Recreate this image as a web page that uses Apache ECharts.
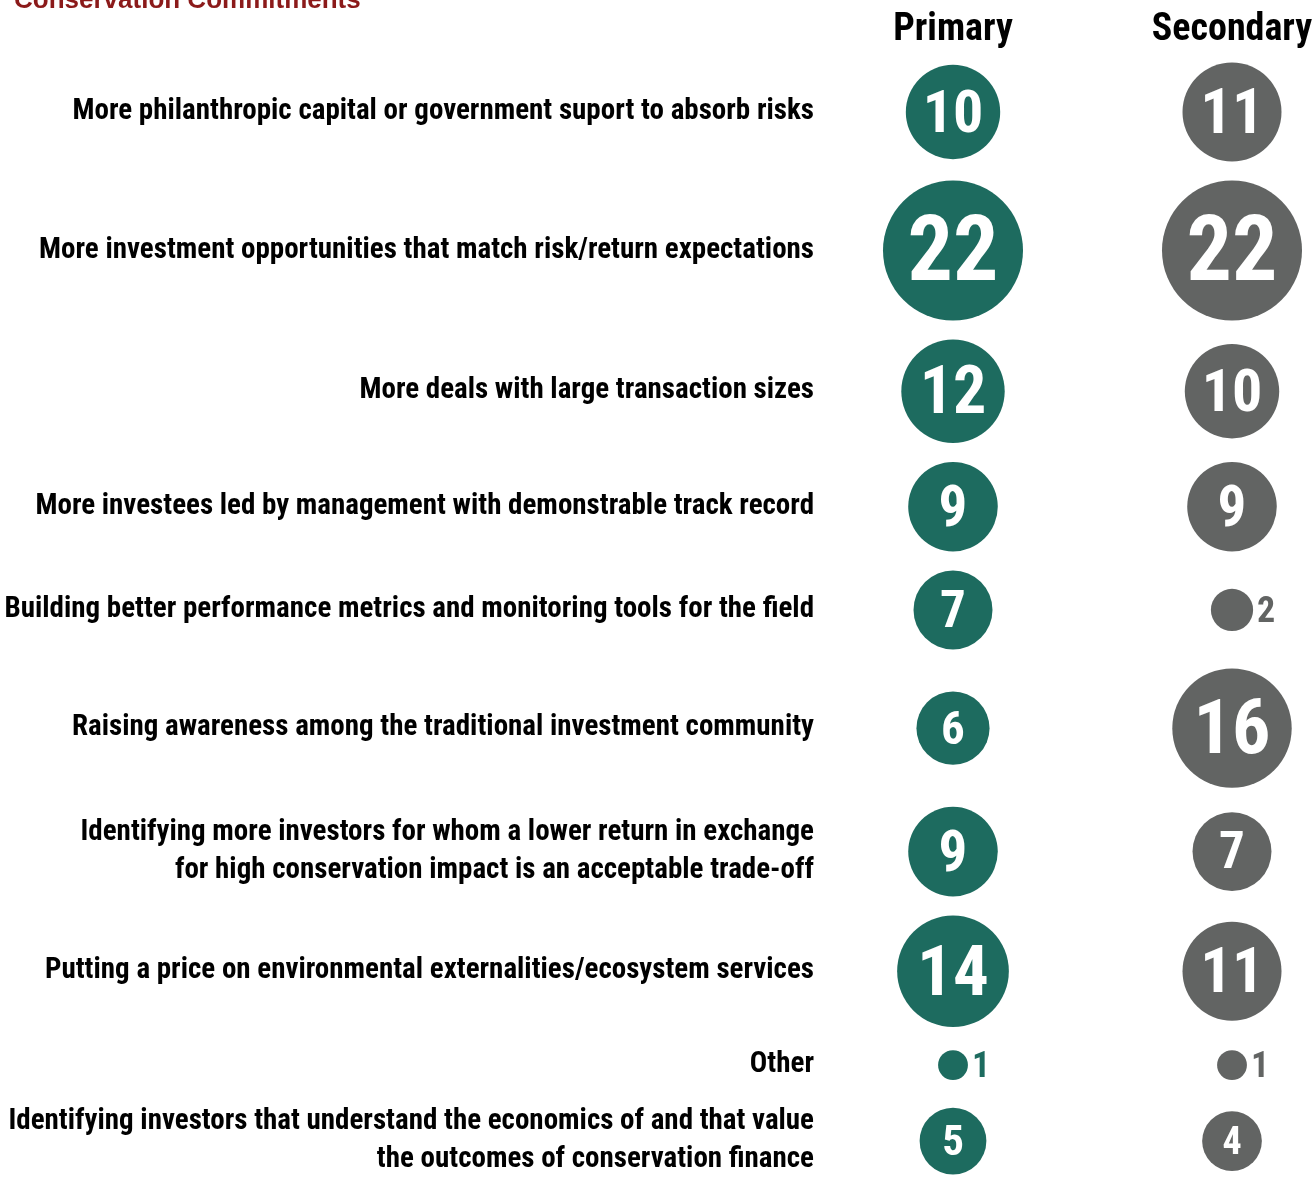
<!DOCTYPE html>
<html>
<head>
<meta charset="utf-8">
<title>Conservation Commitments</title>
<script src="https://cdn.jsdelivr.net/npm/echarts@6/dist/echarts.min.js"></script>
<style>
  html, body { margin: 0; padding: 0; background: #ffffff; }
  #chart { width: 1313px; height: 1186px; }
</style>
</head>
<body>
<div id="chart"></div>
<script>
// Survey answers: what would most help grow conservation commitments
const categories = [
  'More philanthropic capital or government suport to absorb risks',
  'More investment opportunities that match risk/return expectations',
  'More deals with large transaction sizes',
  'More investees led by management with demonstrable track record',
  'Building better performance metrics and monitoring tools for the field',
  'Raising awareness among the traditional investment community',
  'Identifying more investors for whom a lower return in exchange\nfor high conservation impact is an acceptable trade-off',
  'Putting a price on environmental externalities/ecosystem services',
  'Other',
  'Identifying investors that understand the economics of and that value\nthe outcomes of conservation finance'
];
const columns = ['Primary', 'Secondary'];
const primary = [10, 22, 12, 9, 7, 6, 9, 14, 1, 5];
const secondary = [11, 22, 10, 9, 2, 16, 7, 11, 1, 4];

const GREEN = '#1d6b5f';
const GREY = '#626463';
const FONT = '"Roboto Condensed", "Open Sans Condensed", "DejaVu Sans Condensed", sans-serif';
const LABEL_LINE = 38;

// bubble area is proportional to the count
const diameter = v => 29.85 * Math.sqrt(v);

// rows are packed by whichever is taller, the largest bubble or the label block,
// plus a constant gap; the y axis therefore runs in layout units (one per pixel)
const ROW_GAP = 19;
const rowHalf = categories.map((c, i) => Math.max(
  Math.max(diameter(primary[i]), diameter(secondary[i])) / 2,
  c.split('\n').length * LABEL_LINE / 2
));
const rowPos = [];
rowHalf.forEach((h, i) => {
  rowPos.push(i === 0 ? 0 : rowPos[i - 1] + rowHalf[i - 1] + h + ROW_GAP);
});
const rowSpan = rowPos[rowPos.length - 1];

function rowIndexOf(val) {
  let best = 0;
  rowPos.forEach((p, i) => { if (Math.abs(p - val) < Math.abs(rowPos[best] - val)) best = i; });
  return best;
}

function buildData(values, colIndex, color) {
  return values.map((v, i) => {
    const d = diameter(v);
    const small = v <= 2;
    const fs = small ? 36 : Math.round(d * 0.64);
    return {
      value: [colIndex, rowPos[i], v],
      symbolSize: d,
      label: small ? {
        position: 'right',
        distance: 4,
        offset: [0, Math.round(fs * 0.08)],
        color: color,
        fontSize: fs,
        fontWeight: 'bold'
      } : {
        position: 'inside',
        offset: [0, Math.round(fs * 0.08)],
        color: '#ffffff',
        fontSize: fs,
        fontWeight: 'bold'
      }
    };
  });
}

const chart = echarts.init(document.getElementById('chart'), null, { renderer: 'canvas' });
chart.setOption({
  backgroundColor: '#ffffff',
  animation: false,
  title: {
    text: 'Conservation Commitments',
    left: 9,
    top: -17,
    textStyle: { color: '#8b1a1a', fontSize: 26, fontWeight: 'bold', fontFamily: '"Liberation Sans", Arial, sans-serif' }
  },
  grid: {
    left: 953, width: 279, top: 112, height: rowSpan,
    containLabel: false,
    outerBoundsMode: 'none'
  },
  xAxis: {
    type: 'category',
    data: columns,
    position: 'top',
    boundaryGap: false,
    axisLine: { show: false },
    axisTick: { show: false },
    splitLine: { show: false },
    axisLabel: {
      margin: 63,
      color: '#000000',
      fontSize: 38,
      fontWeight: 'bold',
      fontFamily: FONT
    }
  },
  yAxis: {
    type: 'value',
    inverse: true,
    min: 0,
    max: rowSpan,
    axisLine: { show: false },
    axisTick: { show: false },
    splitLine: { show: false },
    axisLabel: {
      customValues: rowPos,
      formatter: val => categories[rowIndexOf(val)],
      margin: 139,
      padding: [8, 0, 0, 0],
      color: '#000000',
      fontSize: 29,
      lineHeight: LABEL_LINE,
      fontWeight: 'bold',
      align: 'right',
      fontFamily: FONT
    }
  },
  series: [
    {
      name: 'Primary',
      type: 'scatter',
      itemStyle: { color: GREEN, opacity: 1 },
      label: { show: true, formatter: p => p.value[2], fontFamily: FONT },
      data: buildData(primary, 0, GREEN)
    },
    {
      name: 'Secondary',
      type: 'scatter',
      itemStyle: { color: GREY, opacity: 1 },
      label: { show: true, formatter: p => p.value[2], fontFamily: FONT },
      data: buildData(secondary, 1, GREY)
    }
  ]
});
</script>
</body>
</html>
